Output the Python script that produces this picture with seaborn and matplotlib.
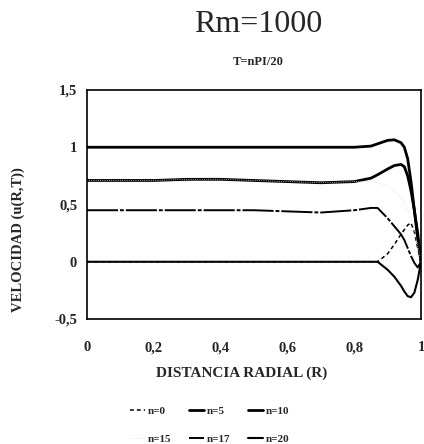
import numpy as np
import pandas as pd
import matplotlib
matplotlib.use("Agg")
import matplotlib.pyplot as plt
import seaborn as sns

# ---- data ----
r_grid = [0.0, 0.1, 0.2, 0.3, 0.4, 0.5, 0.6, 0.7, 0.8, 0.85, 0.87, 0.9, 0.92, 0.94,
          0.95, 0.96, 0.97, 0.98, 0.99, 1.0]
u_n0  = [0.0, 0.0, 0.0, 0.0, 0.0, 0.0, 0.0, 0.0, 0.0, 0.0, 0.0, 0.07, 0.15, 0.24,
         0.28, 0.32, 0.34, 0.26, 0.12, 0.0]
u_n5  = [0.71, 0.71, 0.71, 0.72, 0.72, 0.71, 0.70, 0.69, 0.70, 0.73, 0.76, 0.81, 0.84, 0.85,
         0.83, 0.75, 0.62, 0.45, 0.25, 0.0]
u_n10 = [1.0, 1.0, 1.0, 1.0, 1.0, 1.0, 1.0, 1.0, 1.0, 1.01, 1.03, 1.06, 1.065, 1.04,
         1.0, 0.9, 0.7, 0.45, 0.2, 0.0]
u_n15 = [0.71, 0.71, 0.71, 0.72, 0.72, 0.71, 0.70, 0.69, 0.70, 0.70, 0.69, 0.66, 0.62, 0.56,
         0.52, 0.46, 0.38, 0.27, 0.14, 0.0]
u_n17 = [0.45, 0.45, 0.45, 0.45, 0.45, 0.45, 0.44, 0.43, 0.45, 0.47, 0.47, 0.38, 0.31, 0.24,
         0.19, 0.12, 0.05, -0.01, -0.05, 0.0]
u_n20 = [0.0, 0.0, 0.0, 0.0, 0.0, 0.0, 0.0, 0.0, 0.0, 0.0, 0.0, -0.07, -0.13, -0.21,
         -0.26, -0.30, -0.31, -0.27, -0.16, 0.0]

labels = ["n=0", "n=5", "n=10", "n=15", "n=17", "n=20"]
series = [u_n0, u_n5, u_n10, u_n15, u_n17, u_n20]

x_ticks = [0, 0.2, 0.4, 0.6, 0.8, 1.0]
x_ticklabels = ["0", "0,2", "0,4", "0,6", "0,8", "1"]
y_ticks = [-0.5, 0, 0.5, 1, 1.5]
y_ticklabels = ["-0,5", "0", "0,5", "1", "1,5"]

title = "Rm=1000"
subtitle = "T=nPI/20"
xlabel = "DISTANCIA RADIAL (R)"
ylabel = "VELOCIDAD (u(R,T))"

# ---- styling ----
sns.set_theme(style="white")
plt.rcParams["font.family"] = ["Liberation Serif", "DejaVu Serif"]

styles = {
    "n=0":  dict(color="black", lw=1.1, ls=(0, (2.5, 2))),
    "n=5":  dict(color="black", lw=2.0, ls="-"),
    "n=10": dict(color="black", lw=2.0, ls="-"),
    "n=15": dict(color="#dcdcdc", lw=0.6, ls=":"),
    "n=17": dict(color="black", lw=1.4, ls=(0, (16, 1.0, 2, 1.0))),
    "n=20": dict(color="black", lw=1.5, ls="-"),
}

fig = plt.figure(figsize=(4.24, 4.44), dpi=100)
ax = fig.add_axes([0.205, 0.2815, 0.788, 0.5158])

df = pd.DataFrame({
    "R": np.tile(r_grid, len(labels)),
    "u": np.concatenate([np.asarray(s, dtype=float) for s in series]),
    "n": np.repeat(labels, len(r_grid)),
})

for lab in labels:
    sub = df[df["n"] == lab]
    st = styles[lab]
    sns.lineplot(data=sub, x="R", y="u", ax=ax, color=st["color"], lw=st["lw"],
                 linestyle=st["ls"], label=lab, sort=False, estimator=None)

ax.set_xlim(0, 1)
ax.set_ylim(-0.5, 1.5)
ax.set_xticks(x_ticks)
ax.set_xticklabels(x_ticklabels, fontsize=10.5, fontweight="bold")
ax.set_yticks(y_ticks)
ax.set_yticklabels(y_ticklabels, fontsize=10.5, fontweight="bold")
ax.tick_params(axis="x", length=0, pad=16)
ax.tick_params(axis="y", length=0, pad=7)
ax.set_xlabel("")
ax.set_ylabel("")
for sp in ax.spines.values():
    sp.set_color("black")
    sp.set_linewidth(1.2)
    sp.set_visible(True)

fig.text(258 / 424, 1 - 24 / 444, title, ha="center", va="center", fontsize=23)
fig.text(258 / 424, 1 - 62 / 444, subtitle, ha="center", va="center", fontsize=9,
         fontweight="bold")
fig.text(242 / 424, 1 - 373 / 444, xlabel, ha="center", va="center", fontsize=11,
         fontweight="bold")
fig.text(18 / 424, 1 - 240 / 444, ylabel, ha="center", va="center", fontsize=10.5,
         fontweight="bold", rotation=90)

# legend filled row by row (matplotlib fills columns first)
handles, labs = ax.get_legend_handles_labels()
order = [0, 3, 1, 4, 2, 5]
leg = ax.legend([handles[i] for i in order], [labs[i] for i in order],
                loc="center", bbox_to_anchor=(210 / 424, 1 - 425 / 444),
                bbox_transform=fig.transFigure, ncol=3, frameon=False,
                prop=dict(family="Liberation Serif", weight="bold", size=8),
                handlelength=1.3, handletextpad=0.3, columnspacing=1.6,
                labelspacing=1.6, borderpad=0.1)

fig.savefig("out.png", dpi=100, facecolor="white")
